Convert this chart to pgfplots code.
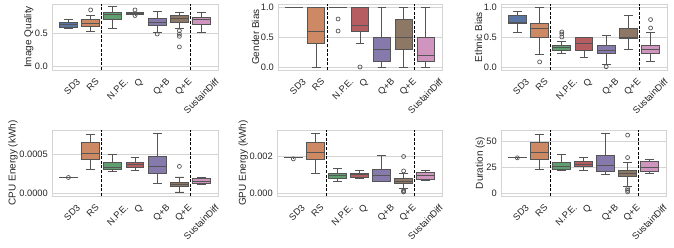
\documentclass[border=0pt]{standalone}
\usepackage{fontspec}
\setmainfont{Liberation Sans}
\usepackage{pgfplots}
\pgfplotsset{compat=1.18}
\usepgfplotslibrary{statistics}
\definecolor{c0}{HTML}{5875A3}
\definecolor{c1}{HTML}{CC8963}
\definecolor{c2}{HTML}{5F9E6E}
\definecolor{c3}{HTML}{B55D60}
\definecolor{c4}{HTML}{857AAB}
\definecolor{c5}{HTML}{8D7866}
\definecolor{c6}{HTML}{D095BF}
\definecolor{lc}{HTML}{555555}
\definecolor{gridc}{HTML}{D4D4D4}
\definecolor{txt}{HTML}{262626}
\newcommand\tickfont{\fontsize{9.3}{11}\selectfont}
\newcommand\labfont{\fontsize{10}{12}\selectfont}
\def\xsh{{7.7,4.2,11.6,3.7,8.5,8.2,13}}
\newcommand\bp[7]{\addplot[boxplot/draw direction=y, boxplot prepared={draw position=#1,lower whisker=#2,lower quartile=#3,median=#4,upper quartile=#5,upper whisker=#6,box extend=0.8,whisker extend=0.4}, draw=lc, fill=#7, line width=0.9pt, mark=o, mark size=2pt, mark options={draw=lc, line width=0.7pt, fill=none}]}
\newcommand\seps{%
  \draw[black, line width=0.9pt, dash pattern=on 3pt off 1.6pt] ({axis cs:1.5,0}|-{rel axis cs:0,0}) -- ({axis cs:1.5,0}|-{rel axis cs:0,1});
  \draw[black, line width=0.9pt, dash pattern=on 3pt off 1.6pt] ({axis cs:5.5,0}|-{rel axis cs:0,0}) -- ({axis cs:5.5,0}|-{rel axis cs:0,1});}
\pgfplotsset{
  myax/.style={
    scale only axis, anchor=south west,
    xmin=-0.74, xmax=6.74,
    xtick={0,...,6},
    xticklabels={SD3,RS,N.P.E.,Q,Q+B,Q+E,SustainDiff},
    x tick label style={xshift={\xsh[\ticknum]*1pt}, yshift=-7.5pt, rotate=45, anchor=north east, inner sep=0pt},
    y tick label style={anchor=east, inner sep=0pt, xshift=-4pt},
    tick label style={font=\tickfont, text=txt},
    label style={font=\labfont, text=txt},
    ylabel style={yshift=-2pt},
    ymajorgrids, xmajorgrids=false,
    major grid style={draw=gridc, line width=0.8pt},
    axis line style={draw=gridc, line width=0.8pt},
    major tick length=0pt,
    scaled y ticks=false,
    yticklabel style={/pgf/number format/.cd, fixed, fixed zerofill, assume math mode=true},
    clip=true,
  }
}
\begin{document}
\begin{tikzpicture}
% ---------- Image Quality
\begin{axis}[myax, at={(52pt,177pt)}, width=166pt, height=66pt,
  ymin=-0.055, ymax=0.945, ytick={0,0.5},
  yticklabel style={/pgf/number format/precision=1},
  ylabel={Image Quality}]
\bp{0}{0.58}{0.595}{0.63}{0.67}{0.705}{c0} coordinates {};
\bp{1}{0.53}{0.605}{0.655}{0.705}{0.77}{c1} table[row sep=\\,y index=0]{data\\ 0.855\\};
\bp{2}{0.58}{0.705}{0.78}{0.82}{0.905}{c2} coordinates {};
\bp{3}{0.78}{0.785}{0.80}{0.815}{0.82}{c3} table[row sep=\\,y index=0]{data\\ 0.855\\ 0.77\\};
\bp{4}{0.52}{0.62}{0.665}{0.72}{0.83}{c4} table[row sep=\\,y index=0]{data\\ 0.49\\};
\bp{5}{0.58}{0.665}{0.73}{0.765}{0.82}{c5} table[row sep=\\,y index=0]{data\\ 0.54\\ 0.49\\ 0.455\\ 0.295\\};
\bp{6}{0.52}{0.64}{0.705}{0.745}{0.82}{c6} coordinates {};
\seps
\end{axis}
% ---------- Gender Bias
\begin{axis}[myax, at={(278pt,177pt)}, width=164pt, height=66pt,
  ymin=-0.05, ymax=1.05, ytick={0,0.5,1},
  yticklabel style={/pgf/number format/precision=1},
  ylabel={Gender Bias}]
\bp{0}{1}{1}{1}{1}{1}{c0} coordinates {};
\bp{1}{0}{0.4}{0.6}{1}{1}{c1} coordinates {};
\bp{2}{1}{1}{1}{1}{1}{c2} table[row sep=\\,y index=0]{data\\ 0.8\\ 0.6\\};
\bp{3}{0.4}{0.6}{0.7}{1}{1}{c3} table[row sep=\\,y index=0]{data\\ 0.0\\};
\bp{4}{0}{0.1}{0.3}{0.5}{1}{c4} coordinates {};
\bp{5}{0}{0.3}{0.5}{0.8}{1}{c5} coordinates {};
\bp{6}{0}{0.1}{0.2}{0.5}{1}{c6} coordinates {};
\seps
\end{axis}
% ---------- Ethnic Bias
\begin{axis}[myax, at={(501pt,177pt)}, width=166pt, height=66pt,
  ymin=-0.05, ymax=1.05, ytick={0,0.5,1},
  yticklabel style={/pgf/number format/precision=1},
  ylabel={Ethnic Bias}]
\bp{0}{0.57}{0.72}{0.75}{0.855}{0.93}{c0} coordinates {};
\bp{1}{0.21}{0.50}{0.65}{0.72}{1.0}{c1} table[row sep=\\,y index=0]{data\\ 0.085\\};
\bp{2}{0.23}{0.28}{0.33}{0.365}{0.43}{c2} table[row sep=\\,y index=0]{data\\ 0.50\\ 0.55\\ 0.585\\};
\bp{3}{0.155}{0.28}{0.40}{0.50}{0.50}{c3} coordinates {};
\bp{4}{0.045}{0.23}{0.28}{0.365}{0.53}{c4} table[row sep=\\,y index=0]{data\\ 0.005\\};
\bp{5}{0.29}{0.47}{0.50}{0.635}{0.855}{c5} coordinates {};
\bp{6}{0.085}{0.23}{0.29}{0.365}{0.57}{c6} table[row sep=\\,y index=0]{data\\ 0.65\\ 0.79\\};
\seps
\end{axis}
% ---------- CPU Energy (values in units of 1e-4 kWh)
\begin{axis}[myax, at={(52pt,51pt)}, width=166pt, height=66pt,
  ymin=-0.3, ymax=8.1, ytick={0,5}, yticklabels={0.0000,0.0005},
  ylabel={CPU Energy (kWh)}]
\bp{0}{2.09}{2.10}{2.10}{2.11}{2.11}{c0} table[row sep=\\,y index=0]{data\\ 2.06\\};
\bp{1}{3.10}{4.36}{5.08}{6.48}{7.54}{c1} coordinates {};
\bp{2}{2.88}{3.09}{3.39}{3.94}{5.00}{c2} coordinates {};
\bp{3}{2.97}{3.39}{3.73}{4.03}{4.66}{c3} coordinates {};
\bp{4}{1.27}{2.54}{3.52}{4.79}{7.63}{c4} coordinates {};
\bp{5}{0.21}{0.93}{1.19}{1.48}{2.12}{c5} table[row sep=\\,y index=0]{data\\ 3.47\\};
\bp{6}{1.14}{1.27}{1.61}{1.91}{2.03}{c6} coordinates {};
\seps
\end{axis}
% ---------- GPU Energy (values in units of 1e-3 kWh)
\begin{axis}[myax, at={(277pt,51pt)}, width=165pt, height=66pt,
  ymin=-0.16, ymax=3.45, ytick={0,2}, yticklabels={0.000,0.002},
  ylabel={GPU Energy (kWh)}]
\bp{0}{1.940}{1.945}{1.945}{1.950}{1.950}{c0} table[row sep=\\,y index=0]{data\\ 1.87\\};
\bp{1}{1.06}{1.85}{2.20}{2.77}{3.27}{c1} coordinates {};
\bp{2}{0.66}{0.79}{0.94}{1.05}{1.34}{c2} coordinates {};
\bp{3}{0.79}{0.88}{1.01}{1.10}{1.23}{c3} coordinates {};
\bp{4}{0.61}{0.66}{0.97}{1.30}{2.04}{c4} coordinates {};
\bp{5}{0.24}{0.55}{0.66}{0.79}{1.06}{c5} table[row sep=\\,y index=0]{data\\ 2.00\\ 1.21\\ 0.15\\ 0.10\\ 0.06\\};
\bp{6}{0.68}{0.75}{0.97}{1.12}{1.23}{c6} coordinates {};
\seps
\end{axis}
% ---------- Duration
\begin{axis}[myax, at={(501pt,51pt)}, width=165pt, height=66pt,
  ymin=-3, ymax=61.5, ytick={0,25,50},
  yticklabel style={/pgf/number format/precision=0},
  ylabel={Duration (s)}]
\bp{0}{34.4}{34.5}{34.6}{34.7}{34.8}{c0} table[row sep=\\,y index=0]{data\\ 34.3\\};
\bp{1}{23.2}{33}{39.2}{49.3}{57.5}{c1} coordinates {};
\bp{2}{21.6}{23.2}{25.5}{29.7}{37.9}{c2} coordinates {};
\bp{3}{22.2}{25.5}{28.1}{30.4}{34.6}{c3} coordinates {};
\bp{4}{18}{20.6}{27.1}{36.9}{58.2}{c4} coordinates {};
\bp{5}{6.5}{15.7}{19}{22.2}{29.4}{c5} table[row sep=\\,y index=0]{data\\ 56.5\\ 34.6\\ 4.2\\ 2.5\\ 1\\};
\bp{6}{18.6}{20.6}{24.8}{30.4}{33}{c6} coordinates {};
\seps
\end{axis}
\pgfresetboundingbox
\useasboundingbox (0pt,0pt) rectangle (674pt,247pt);
\end{tikzpicture}
\end{document}
